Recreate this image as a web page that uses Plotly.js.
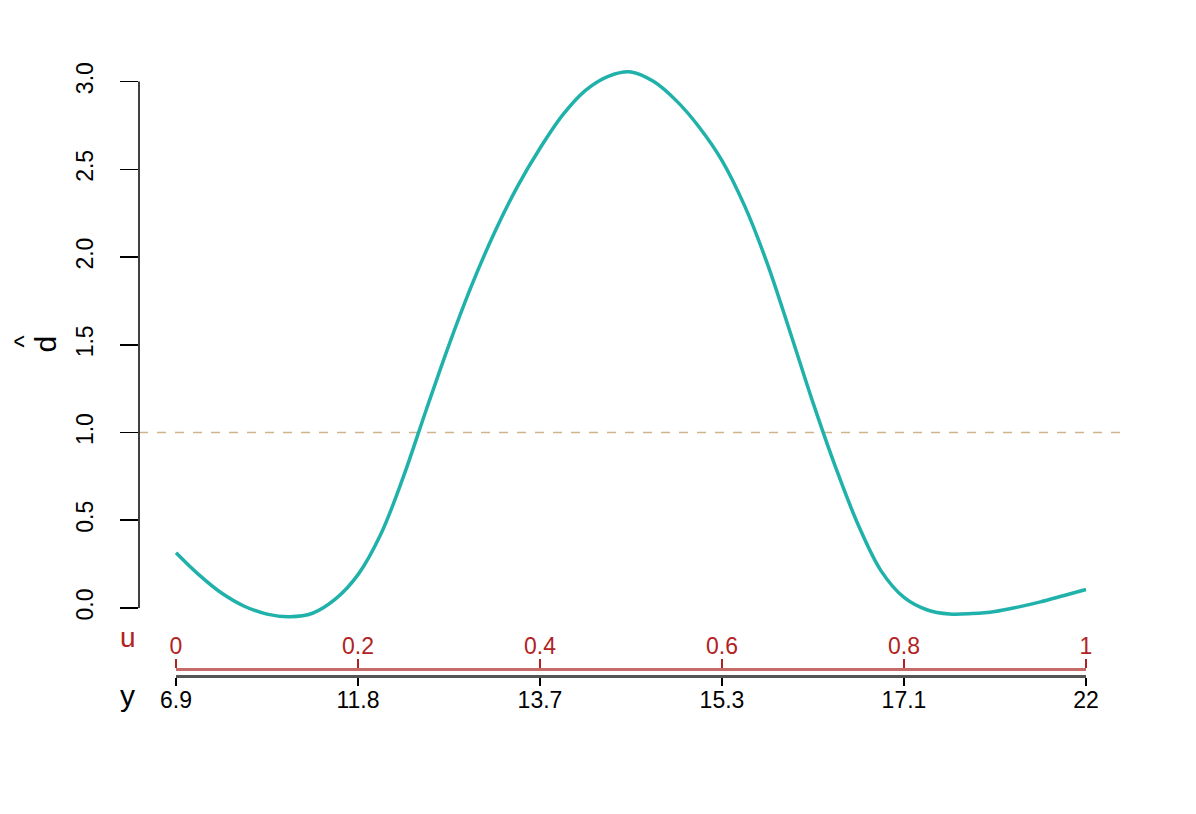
<!DOCTYPE html>
<html>
<head>
<meta charset="utf-8">
<script src="https://cdn.plot.ly/plotly-3.0.1.min.js"></script>
<style>
  html, body { margin: 0; padding: 0; background: #ffffff; }
  #chart { width: 1196px; height: 814px; }
</style>
</head>
<body>
<div id="chart"></div>
<script>
// ---- data ----
const uValues = [0.000, 0.025, 0.050, 0.075, 0.100, 0.125, 0.150, 0.175, 0.200, 0.225,
                 0.250, 0.275, 0.300, 0.325, 0.350, 0.375, 0.400, 0.425, 0.450, 0.475,
                 0.500, 0.525, 0.550, 0.575, 0.600, 0.625, 0.650, 0.675, 0.700, 0.725,
                 0.750, 0.775, 0.800, 0.825, 0.850, 0.875, 0.900, 0.925, 0.950, 0.975,
                 1.000];
const dHat    = [0.315, 0.19, 0.085, 0.01, -0.035, -0.05, -0.03, 0.05, 0.19, 0.42,
                 0.75, 1.13, 1.50, 1.84, 2.14, 2.40, 2.62, 2.81, 2.95, 3.03,
                 3.055, 3.00, 2.89, 2.74, 2.55, 2.29, 1.96, 1.57, 1.17, 0.80,
                 0.47, 0.21, 0.06, -0.01, -0.035, -0.032, -0.02, 0.005, 0.035, 0.07,
                 0.105];
const yTickVals   = [0, 0.5, 1, 1.5, 2, 2.5, 3];
const yTickLabels = ['0.0', '0.5', '1.0', '1.5', '2.0', '2.5', '3.0'];
const uTicks      = [0, 0.2, 0.4, 0.6, 0.8, 1];
const uLabels     = ['0', '0.2', '0.4', '0.6', '0.8', '1'];
const yQuantLabels = ['6.9', '11.8', '13.7', '15.3', '17.1', '22'];
const refLevel = 1;

const FONT = 'Liberation Sans, Arial, Helvetica, sans-serif';
const RED = '#b22222';
const FS = 23;

const traces = [
  {
    x: uTicks, y: uTicks.map(() => null), type: 'scatter', mode: 'markers',
    xaxis: 'x2', yaxis: 'y', hoverinfo: 'skip', showlegend: false
  },
  {
    x: uTicks, y: uTicks.map(() => null), type: 'scatter', mode: 'markers',
    xaxis: 'x3', yaxis: 'y', hoverinfo: 'skip', showlegend: false
  },
  {
    x: uValues, y: dHat, type: 'scatter', mode: 'lines',
    line: { color: '#20b2aa', width: 3.5, shape: 'spline', smoothing: 1 },
    xaxis: 'x', yaxis: 'y', hoverinfo: 'skip', showlegend: false
  }
];

const layout = {
  width: 1196, height: 814,
  margin: { l: 139, r: 72, t: 50, b: 100 },
  paper_bgcolor: '#ffffff', plot_bgcolor: 'rgba(0,0,0,0)',
  font: { family: FONT, size: FS, color: '#000000' },
  showlegend: false,
  xaxis: {
    domain: [0, 1], range: [-0.0407, 1.0418],
    visible: false, showgrid: false, zeroline: false, fixedrange: true
  },
  yaxis: {
    domain: [0.1137, 1], range: [-0.174, 3.18],
    tickvals: yTickVals, ticktext: yTickLabels, tickangle: -90,
    ticks: 'outside', ticklen: 18, tickwidth: 1.5, tickcolor: '#000000',
    ticklabelstandoff: 18,
    showline: false, showgrid: false, zeroline: false,
    tickfont: { family: FONT, size: FS, color: '#000000' },
    title: { text: 'd', font: { family: FONT, size: 30, color: '#000000' }, standoff: 6 }
  },
  xaxis2: {
    domain: [0.03756, 0.9614], range: [-0.000001, 1.000001],
    anchor: 'free', position: 0.0678, side: 'top',
    tickvals: uTicks, ticktext: uLabels,
    ticks: 'outside', ticklen: 9, tickwidth: 1.5, tickcolor: RED,
    ticklabelstandoff: -4,
    showline: true, linecolor: '#c66a6a', linewidth: 3,
    showgrid: false, zeroline: false,
    tickfont: { family: FONT, size: FS, color: RED }
  },
  xaxis3: {
    domain: [0.03756, 0.9614], range: [-0.000001, 1.000001],
    anchor: 'free', position: 0.0572, side: 'bottom',
    tickvals: uTicks, ticktext: yQuantLabels,
    ticks: 'outside', ticklen: 8, tickwidth: 1.5, tickcolor: '#000000',
    ticklabelstandoff: -6,
    showline: true, linecolor: '#555555', linewidth: 3,
    showgrid: false, zeroline: false,
    tickfont: { family: FONT, size: FS, color: '#000000' }
  },
  shapes: [
    { type: 'line', xref: 'paper', x0: 0, x1: 0, yref: 'y', y0: yTickVals[0], y1: yTickVals[yTickVals.length - 1],
      line: { color: '#000000', width: 1.5 } },
    { type: 'line', xref: 'paper', x0: 0, x1: 1, yref: 'y', y0: refLevel, y1: refLevel,
      line: { color: '#d2b48c', width: 1.5, dash: 'dash' }, layer: 'below' }
  ],
  annotations: [
    { text: '^', xref: 'paper', yref: 'y', x: -0.1165, y: 1.52, textangle: -90, showarrow: false,
      xanchor: 'center', yanchor: 'middle', font: { family: FONT, size: 26, color: '#000000' } },
    { text: 'u', xref: 'paper', yref: 'paper', x: -0.0112, y: 0.1145, showarrow: false,
      xanchor: 'center', yanchor: 'middle', font: { family: FONT, size: 28, color: RED } },
    { text: 'y', xref: 'paper', yref: 'paper', x: -0.0112, y: 0.0286, showarrow: false,
      xanchor: 'center', yanchor: 'middle', font: { family: FONT, size: 30, color: '#000000' } }
  ]
};

Plotly.newPlot('chart', traces, layout, { staticPlot: true, displayModeBar: false });
</script>
</body>
</html>
